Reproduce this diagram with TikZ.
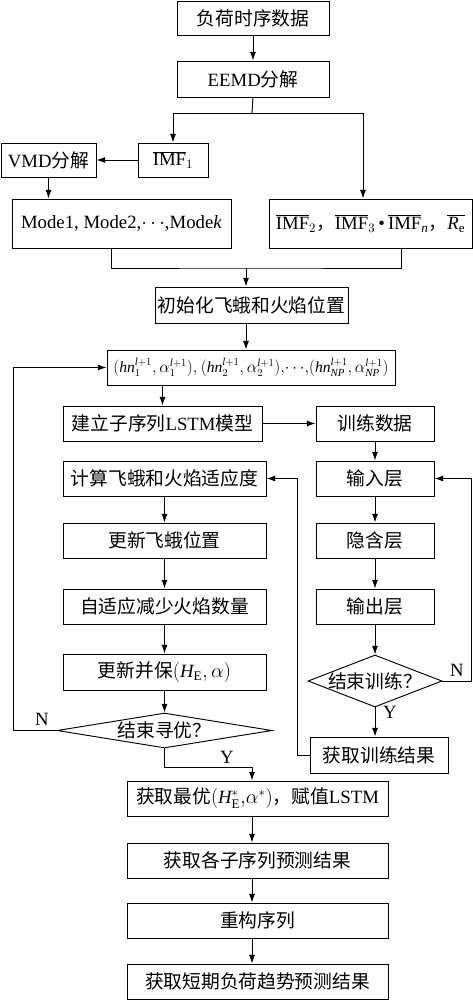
\documentclass[tikz,border=0pt]{standalone}
\usepackage{fontspec}
\setmainfont{Liberation Serif}
\newfontfamily\cjk{Noto Sans CJK SC}
\usetikzlibrary{shapes.geometric,calc,arrows.meta}
\newcommand\en[1]{{\rmfamily #1}}
\newcommand\px{0.03cm}
\newcommand\lp{\mathit{l}{+}1}

\begin{document}
\begin{tikzpicture}[x=\px,y=-\px,line width=0.8pt,
        every node/.style={inner sep=0pt,font=\cjk\fontsize{16}{19}\selectfont}]
        \tikzset{proc/.style 2 args = {draw,rectangle,minimum width=#1*\px,minimum height=#2*\px}}
        \tikzset{cond/.style 2 args = {draw,diamond,minimum width=#1*\px,minimum height=#2*\px}}
        \tikzset{edge/.style = {->,> = {Latex[length=2.6mm,width=1.8mm]}}}
        \useasboundingbox (0,0) rectangle (473,1000);

        \node[proc={152}{34}] (data) at (253,18) {负荷时序数据};
        \node[proc={152}{36}] (eemd) at (253,79) {\en{EEMD}分解};
        \node[proc={70}{34}] (imf1) at (173,160) {$\overline{\mathrm{IMF}}_1$};
        \node[proc={95}{34}] (vmd) at (48.5,160) {\en{VMD}分解};
        \node[proc={219}{49}] (mode) at (121.5,223.5) {\en{Mode1, Mode2,$\cdots$,Mode\textit{k}}};
        \node[proc={203}{49}] (imfr) at (370.5,223.5) {$\overline{\mathrm{IMF}}_2$，$\overline{\mathrm{IMF}}_3$\,\en{•}\,$\overline{\mathrm{IMF}}_{\mathit{n}}$，$\overline{\mathit{R}_{\mathrm{e}}}$};
        \node[proc={193}{36}] (init) at (251.5,305) {初始化飞蛾和火焰位置};
        \node[proc={288}{35}] (hn) at (251,367.5) {\resizebox{8.25cm}{!}{$(\mathit{hn}_1^{\lp}{,}\,\alpha_1^{\lp}){,}\ (\mathit{hn}_2^{\lp}{,}\,\alpha_2^{\lp}){,}\!\cdots\!{,}(\mathit{hn}_{\mathit{NP}}^{\lp}{,}\,\alpha_{\mathit{NP}}^{\lp})$}};
        \node[proc={199}{35}] (lstm) at (162.5,423.5) {建立子序列\en{LSTM}模型};
        \node[proc={118}{35}] (train) at (375,423.5) {训练数据};
        \node[proc={203}{35}] (fit) at (164.5,478.5) {计算飞蛾和火焰适应度};
        \node[proc={118}{35}] (input) at (375,478.5) {输入层};
        \node[proc={203}{35}] (upd) at (164.5,540.5) {更新飞蛾位置};
        \node[proc={118}{35}] (hidden) at (375,540.5) {隐含层};
        \node[proc={203}{35}] (adapt) at (164.5,606.5) {自适应减少火焰数量};
        \node[proc={118}{35}] (output) at (375,606.5) {输出层};
        \node[proc={203}{36}] (save) at (164.5,672) {更新并保$(\mathit{H}_{\mathrm{E}},\alpha)$};
        \node[cond={215}{35},label={center:结束寻优？}] (end1) at (164.5,730.5) {};
        \node[cond={134}{52},label={center:结束训练？}] (end2) at (375,681) {};
        \node[proc={138}{36}] (result) at (379,755) {获取训练结果};
        \node[proc={261}{35}] (best) at (257.5,798.5) {获取最优$(\mathit{H}_{\mathrm{E}}^*{,}\alpha^*)$，赋值\en{LSTM}};
        \node[proc={261}{35}] (pred) at (257.5,860.5) {获取各子序列预测结果};
        \node[proc={261}{35}] (recon) at (257.5,920.5) {重构序列};
        \node[proc={261}{35}] (final) at (257.5,981.5) {获取短期负荷趋势预测结果};

        \node (n1) at (42,719) {\en{N}};
        \node (y1) at (227,757) {\en{Y}};
        \node (n2) at (457,670) {\en{N}};
        \node (y2) at (390,712) {\en{Y}};

        \coordinate (split) at (252,113);
        \coordinate (join) at (246,268);
        \coordinate (turn) at (252,767);

        \draw[edge] (data) -- (eemd);
        \draw (eemd.south) -- (split);
        \draw[edge] (split) -| (imf1.north);
        \draw[edge] (split) -| ($(imfr.north)+(-7.5,0)$);
        \draw[edge] (imf1) -- (vmd);
        \draw[edge] (vmd.south) -- (vmd.south |- mode.north);
        \draw ($(mode.south)+(-10.5,0)$) |- (join) -| ($(imfr.south)+(30.5,0)$);
        \draw[edge] (join) -- (join |- init.north);
        \draw[edge] (join |- init.south) -- (join |- hn.north);
        \draw[edge] (lstm.north |- hn.south) -- (lstm.north);

        \draw[edge] (lstm) -- (train);
        \draw[edge] (train) -- (input);
        \draw[edge] (input) -- (hidden);
        \draw[edge] (hidden) -- (output);
        \draw[edge] (output) -- (end2);
        \draw[edge] (end2.south) -- (end2.south |- result.north);
        \draw[edge] (end2.east) -- ++(29,0) |- (input.east);
        \draw[edge] (result.west) -- ++(-12,0) |- (fit.east);

        \draw[edge] (fit) -- (upd);
        \draw[edge] (upd) -- (adapt);
        \draw[edge] (adapt) -- (save);
        \draw[edge] (save) -- (end1);
        \draw[edge] (end1.west) -- ++(-43,0) |- (hn.west);
        \draw (end1.south) |- (turn);

        \draw[edge] (turn) -- (turn |- best.north);
        \draw[edge] (turn |- best.south) -- (turn |- pred.north);
        \draw[edge] (turn |- pred.south) -- (turn |- recon.north);
        \draw[edge] (turn |- recon.south) -- (turn |- final.north);
\end{tikzpicture}
\end{document}
